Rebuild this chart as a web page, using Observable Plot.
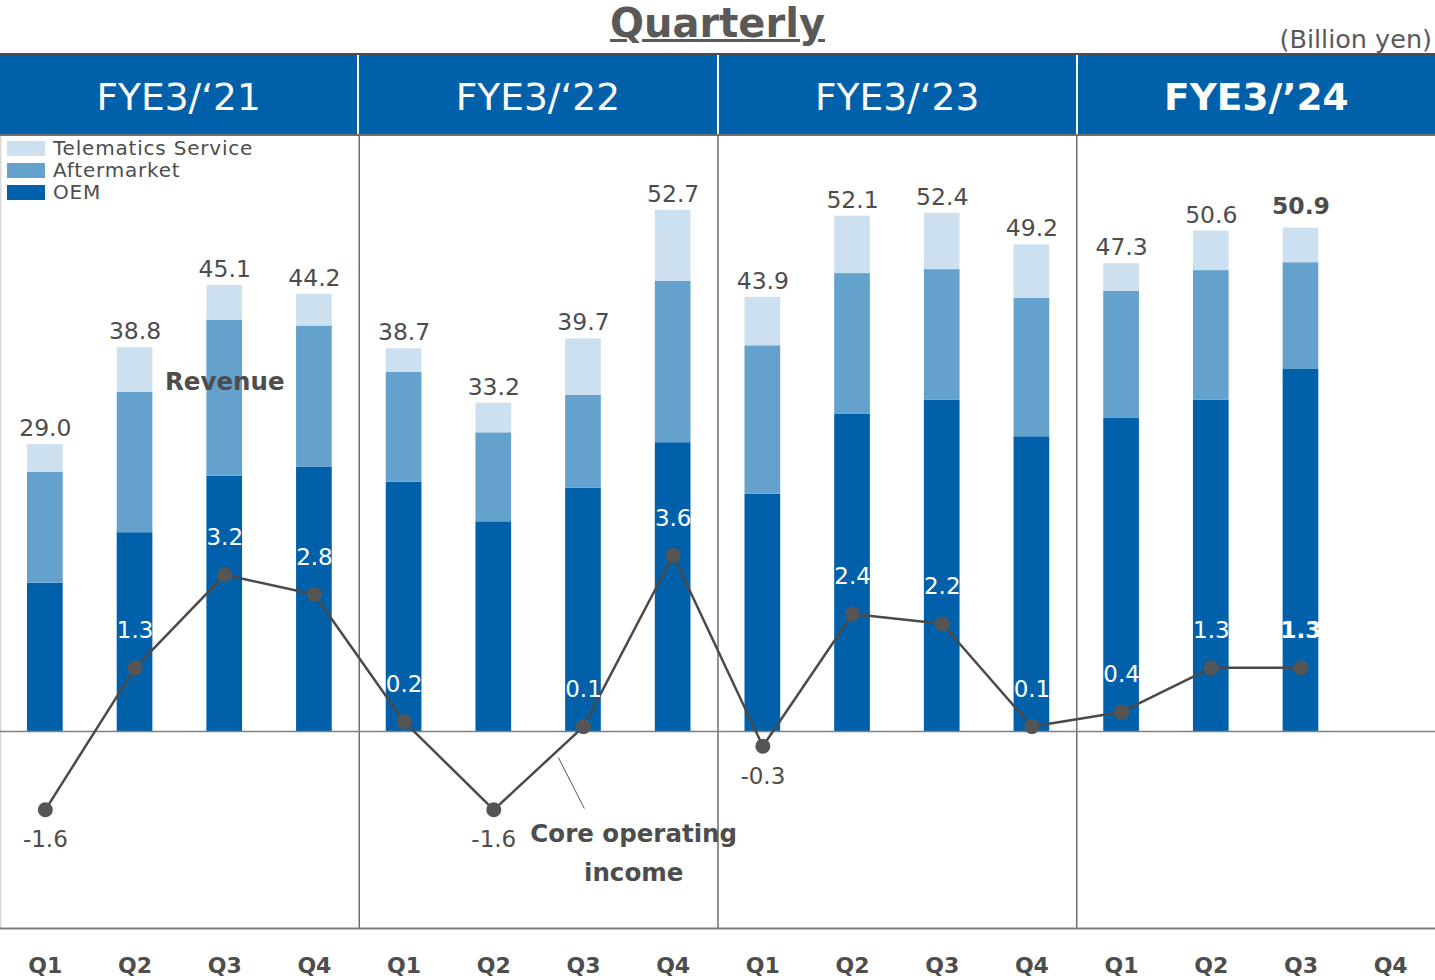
<!DOCTYPE html>
<html>
<head>
<meta charset="utf-8">
<script src="https://cdn.jsdelivr.net/npm/d3@7"></script>
<script src="https://cdn.jsdelivr.net/npm/@observablehq/plot@0.6"></script>
<style>
  body { margin: 0; background: #fff; font-family: "DejaVu Sans", Verdana, sans-serif; color: #595959; }
  #wrap { position: relative; width: 1435px; height: 980px; overflow: hidden; }
  #title { position: absolute; left: 0; right: 0; top: 3px; text-align: center; font-size: 40px; font-weight: bold;
           line-height: 40px; text-decoration: underline; text-decoration-thickness: 3px; text-underline-offset: 2px; color: #595959; }
  #unit { position: absolute; right: 3px; top: 27px; font-size: 25.5px; line-height: 25.5px; color: #595959; }
  #header { position: absolute; left: 0; top: 53px; width: 1435px; height: 79px; display: flex;
            border-top: 2px solid #4d4d4d; border-bottom: 2px solid #6e6e6e; background: #0061AA; }
  #header .cell { flex: 1 1 0; box-sizing: border-box; display: flex; align-items: center; justify-content: center;
                  color: #fff; font-size: 37.5px; padding-top: 5px; }
  #header .cell + .cell { border-left: 2px solid #fff; }
  #chart { position: absolute; left: 0; top: 136px; }
  #legend { position: absolute; left: 7px; top: 137px; font-size: 20px; line-height: 22px; letter-spacing: 0.8px; color: #4d4d4d; }
  #legend .row { display: flex; align-items: center; height: 22px; }
  #legend .sw { display: inline-block; width: 38px; height: 15px; margin-right: 8px; }
</style>
</head>
<body>
<div id="wrap">
  <div id="title">Quarterly</div>
  <div id="unit">(Billion yen)</div>
  <div id="header"></div>
  <div id="chart"></div>
  <div id="legend"></div>
</div>
<script>
// ---- data ----
const years = ["FYE3/\u201821", "FYE3/\u201822", "FYE3/\u201823", "FYE3/\u201924"];
const quarters = ["Q1", "Q2", "Q3", "Q4"];
const segments = ["OEM", "Aftermarket", "Telematics Service"];
const segmentColors = ["#0061AA", "#65A1CD", "#CCE0EF"];
const oem         = [15.0, 20.1, 25.8, 26.7, 25.2, 21.2, 24.6, 29.2, 24.0, 32.1, 33.5, 29.8, 31.7, 33.5, 36.6];
const aftermarket = [11.2, 14.2, 15.8, 14.3, 11.1,  9.0,  9.4, 16.3, 15.0, 14.2, 13.2, 14.0, 12.8, 13.1, 10.8];
const telematics  = [ 2.8,  4.5,  3.5,  3.2,  2.4,  3.0,  5.7,  7.2,  4.9,  5.8,  5.7,  5.4,  2.8,  4.0,  3.5];
const revenue     = [29.0, 38.8, 45.1, 44.2, 38.7, 33.2, 39.7, 52.7, 43.9, 52.1, 52.4, 49.2, 47.3, 50.6, 50.9];
const coreIncome  = [-1.6,  1.3,  3.2,  2.8,  0.2, -1.6,  0.1,  3.6, -0.3,  2.4,  2.2,  0.1,  0.4,  1.3,  1.3];

// ---- derived tables ----
const slots = years.flatMap((y, yi) => quarters.map((q, qi) => ({year: y, quarter: q, i: yi * quarters.length + qi})));
const segValues = [oem, aftermarket, telematics];
const stacked = revenue.flatMap((r, i) => segments.map((s, si) => ({i, segment: s, value: segValues[si][i]})));
const lastIdx = revenue.length - 1;
const points = revenue.map((r, i) => ({i, revenue: r, income: coreIncome[i], last: i === lastIdx}));

// header
const header = document.getElementById("header");
years.forEach((y, yi) => {
  const c = document.createElement("div");
  c.className = "cell";
  c.textContent = y;
  if (yi === years.length - 1) c.style.fontWeight = "bold";
  header.appendChild(c);
});
// legend
const legend = document.getElementById("legend");
segments.slice().reverse().forEach(s => {
  const row = document.createElement("div");
  row.className = "row";
  const sw = document.createElement("span");
  sw.className = "sw";
  sw.style.background = segmentColors[segments.indexOf(s)];
  row.appendChild(sw);
  row.appendChild(document.createTextNode(s));
  legend.appendChild(row);
});

const yMin = -19.92, yMax = 60.16;
const incomeRatio = 4.95; // secondary-axis ratio for core operating income
const xc = d => d.i + 0.5;
const gray = "#4d4d4d";

const chart = Plot.plot({
  width: 1435, height: 844,
  marginTop: 0, marginBottom: 52, marginLeft: 0, marginRight: 0,
  x: {type: "linear", domain: [0, slots.length], axis: null},
  y: {domain: [yMin, yMax], axis: null},
  color: {domain: segments, range: segmentColors},
  style: {fontFamily: "DejaVu Sans, Verdana, sans-serif", overflow: "visible", background: "transparent"},
  marks: [
    Plot.ruleX([0], {stroke: "#d9d9d9", strokeWidth: 2}),
    Plot.ruleX(years.slice(1), {x: (d, i) => (i + 1) * quarters.length, stroke: "#6e6e6e", strokeWidth: 1.5}),
    Plot.rectY(stacked, Plot.stackY({x1: "i", x2: d => d.i + 1, y: "value", fill: "segment", order: segments, insetLeft: 27, insetRight: 27})),
    Plot.ruleY([0], {stroke: "#808080", strokeWidth: 1.5}),
    Plot.ruleY([yMin], {stroke: "#808080", strokeWidth: 2}),
    // revenue totals
    Plot.text(points.filter(d => !d.last), {x: xc, y: "revenue", text: d => d.revenue.toFixed(1), dy: -16, fontSize: 23.5, fill: gray}),
    Plot.text(points.filter(d => d.last), {x: xc, y: "revenue", text: d => d.revenue.toFixed(1), dy: -22, fontSize: 23.5, fontWeight: "bold", fill: gray}),
    // core operating income line
    Plot.line(points, {x: xc, y: d => d.income * incomeRatio, stroke: "#4a4a4a", strokeWidth: 2.5}),
    Plot.dot(points, {x: xc, y: d => d.income * incomeRatio, r: 7.5, fill: "#555", stroke: "none"}),
    Plot.text(points.filter(d => d.income >= 0 && !d.last), {x: xc, y: d => d.income * incomeRatio, text: d => d.income.toFixed(1), dy: -37, fontSize: 23, fill: "#fff"}),
    Plot.text(points.filter(d => d.income >= 0 && d.last), {x: xc, y: d => d.income * incomeRatio, text: d => d.income.toFixed(1), dy: -37, fontSize: 23, fontWeight: "bold", fill: "#fff"}),
    Plot.text(points.filter(d => d.income < 0), {x: xc, y: d => d.income * incomeRatio, text: d => d.income.toFixed(1), dy: 30, fontSize: 23, fill: gray}),
    // annotations
    Plot.text(["Revenue"], {x: 2.5, y: 35.3, text: d => d, fontSize: 24.5, fontWeight: "bold", fill: gray}),
    Plot.link([0], {x1: 6.22, y1: -2.63, x2: 6.51, y2: -7.79, stroke: "#595959", strokeWidth: 1}),
    Plot.text(["Core operating\nincome"], {x: 7.06, y: -11.88, text: d => d, fontSize: 24.5, fontWeight: "bold", fill: gray, lineHeight: 1.6}),
    // quarter labels
    Plot.text(slots, {x: xc, text: "quarter", frameAnchor: "bottom", dy: 44, fontSize: 22, fontWeight: "bold", fill: gray})
  ]
});
document.getElementById("chart").appendChild(chart);
</script>
</body>
</html>
